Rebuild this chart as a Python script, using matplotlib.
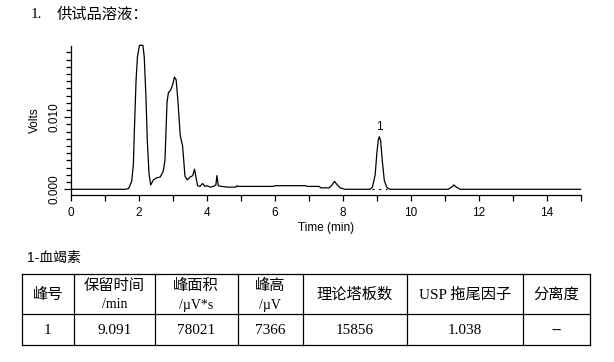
import matplotlib.pyplot as plt
from matplotlib.ticker import MultipleLocator, FixedLocator, FormatStrFormatter

plt.rcParams['font.family'] = ['Liberation Sans', 'Noto Sans CJK SC']

# chromatogram trace (min, volts)
timeMin = [0.00, 1.60, 1.69, 1.78, 1.83, 1.86, 1.91, 1.95, 2.01, 2.11, 2.15, 2.20,
           2.24, 2.29, 2.34, 2.42, 2.52, 2.62, 2.71, 2.76, 2.79, 2.82, 2.86, 2.93,
           2.99, 3.04, 3.09, 3.14, 3.21, 3.28, 3.35, 3.42, 3.50, 3.58, 3.63, 3.67,
           3.72, 3.79, 3.87, 3.94, 4.00, 4.09, 4.19, 4.26, 4.29, 4.33, 4.43, 4.58,
           4.85, 4.88, 4.92, 5.95, 6.00, 6.90, 6.95, 7.30, 7.35, 7.60, 7.68, 7.75,
           7.82, 7.92, 8.06, 8.80, 8.87, 8.95, 9.00, 9.04, 9.07, 9.11, 9.16, 9.22,
           9.30, 9.40, 11.10, 11.20, 11.27, 11.34, 11.45, 15.00]
volts = [0.0000, 0.0000, 0.0001, 0.0011, 0.0034, 0.0082, 0.0152, 0.0184, 0.0200, 0.0200, 0.0184, 0.0129,
         0.0068, 0.0022, 0.0006, 0.0013, 0.0016, 0.0017, 0.0025, 0.0040, 0.0080, 0.0120, 0.0134, 0.0138,
         0.0146, 0.0156, 0.0152, 0.0124, 0.0075, 0.0060, 0.0018, 0.0013, 0.0017, 0.0019, 0.0028, 0.0018,
         0.0005, 0.0004, 0.0008, 0.0004, 0.0005, 0.0003, 0.0004, 0.0006, 0.0019, 0.0005, 0.0004, 0.0003,
         0.0003, 0.0005, 0.0004, 0.0004, 0.0005, 0.0005, 0.0004, 0.0004, 0.0002, 0.0002, 0.0006, 0.0011,
         0.0007, 0.0002, 0.0000, 0.0000, 0.0003, 0.0020, 0.0050, 0.0068, 0.0073, 0.0068, 0.0040, 0.0012,
         0.0002, 0.0000, 0.0000, 0.0003, 0.0006, 0.0003, 0.0000, 0.0000]

# integration baseline under peak 1
baseT = [8.87, 9.30]
baseV = [0.0, 0.0]
peakName = '1'
peakT = 9.07
peakV = 0.0073

# result table
tableTitle = '1-血竭素'
headTop = ['峰号', '保留时间', '峰面积', '峰高', '理论塔板数', 'USP 拖尾因子', '分离度']
headUnit = ['', '/min', '/µV*s', '/µV', '', '', '']
rowVals = ['1', '9.091', '78021', '7366', '15856', '1.038', '--']

fig = plt.figure(figsize=(6.14, 3.62), dpi=100)

# layer in pixel coords for title and table
lay = fig.add_axes([0, 0, 1, 1])
lay.set_xlim(0, 614)
lay.set_ylim(362, 0)
lay.axis('off')

ax = fig.add_axes([0.116, 0.4622, 0.8296, 0.4107])
ax.patch.set_alpha(0)
ax.plot(timeMin, volts, color='black', lw=0.9, clip_on=False)
ax.plot(baseT, baseV, color='black', lw=0.8, dashes=(2, 4))
ax.annotate(peakName, (peakT, peakV), xytext=(0, 3), textcoords='offset points',
            ha='center', va='bottom', fontsize=8.5)
ax.set_xlim(0, 15)
ax.set_ylim(-0.00075, 0.0199)
ax.spines['top'].set_visible(False)
ax.spines['right'].set_visible(False)
ax.spines['left'].set_linewidth(0.9)
ax.spines['bottom'].set_linewidth(0.9)
ax.xaxis.set_major_locator(MultipleLocator(2))
ax.xaxis.set_minor_locator(MultipleLocator(1))
ax.yaxis.set_major_locator(FixedLocator([0.0, 0.010]))
ax.yaxis.set_minor_locator(MultipleLocator(0.001))
ax.yaxis.set_major_formatter(FormatStrFormatter('%.3f'))
ax.tick_params(axis='x', which='both', length=4, width=0.9, labelsize=8.5, pad=5)
ax.tick_params(axis='y', which='major', length=5, width=0.9, labelsize=8.5, pad=2.5, labelrotation=90)
ax.tick_params(axis='y', which='minor', length=3.3, width=0.9)
for lab in ax.get_yticklabels():
    lab.set_va('center')
ax.set_xlabel('Time (min)', fontsize=8.5, labelpad=2)
ax.set_ylabel('Volts', fontsize=8.5, labelpad=6)

# heading
lay.text(30.5, 15, '1.', fontsize=11, family=['Liberation Serif', 'Noto Sans CJK SC'], va='center')
lay.text(57, 15, '供试品溶液：', fontsize=11, va='center')
lay.text(27, 258, tableTitle, fontsize=10, va='center')

# table grid
colEdges = [21.5, 74, 155, 237.5, 302.7, 406.7, 522.7, 590]
rowEdges = [274.3, 314.3, 345]
for y in rowEdges:
    lay.plot([colEdges[0], colEdges[-1]], [y, y], color='black', lw=0.9)
for x in colEdges:
    lay.plot([x, x], [rowEdges[0], rowEdges[-1]], color='black', lw=0.9)

serif = ['Liberation Serif', 'Noto Sans CJK SC']
for i in range(len(headTop)):
    cx = (colEdges[i] + colEdges[i + 1]) / 2
    if headUnit[i]:
        lay.text(cx, 286, headTop[i], fontsize=11, ha='center', va='center', family=serif)
        lay.text(cx, 305, headUnit[i], fontsize=10, ha='center', va='center', family=serif)
    else:
        lay.text(cx, 295, headTop[i], fontsize=11, ha='center', va='center', family=serif)
    lay.text(cx, 330, rowVals[i], fontsize=11, ha='center', va='center', family=serif)

fig.savefig('out.png', dpi=100)
